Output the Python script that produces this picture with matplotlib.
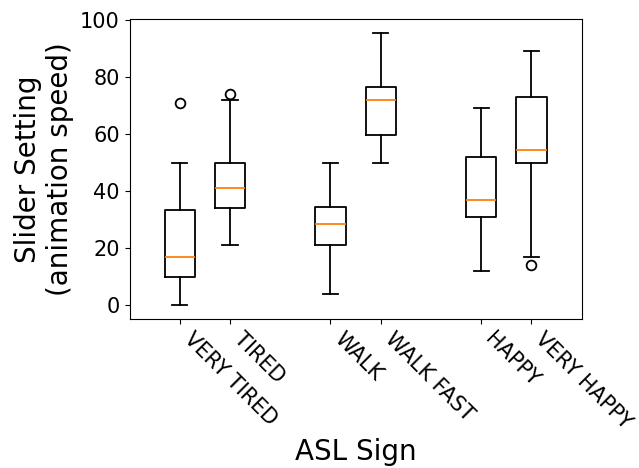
import matplotlib
matplotlib.use("Agg")
import matplotlib.pyplot as plt

# ASL signs and box statistics
signs = ["VERY TIRED", "TIRED", "WALK", "WALK FAST", "HAPPY", "VERY HAPPY"]
positions = [1, 2, 4, 5, 7, 8]
whislo = [0, 21, 4, 50, 12, 17]
q1 = [10, 34, 21, 59.5, 31, 50]
med = [17, 41, 28.5, 72, 37, 54.5]
q3 = [33.5, 50, 34.5, 76.5, 52, 73]
whishi = [50, 72, 50, 95.5, 69, 89]
fliers = [[71], [74], [], [], [], [14]]

stats = []
for i in range(len(signs)):
    stats.append({"label": signs[i], "whislo": whislo[i], "q1": q1[i], "med": med[i],
                  "q3": q3[i], "whishi": whishi[i], "fliers": fliers[i]})

fig = plt.figure(figsize=(6.39, 4.68), dpi=100)
ax = fig.add_axes([0.2027, 0.3184, 0.7076, 0.641])

lw = 1.3
ax.bxp(stats, positions=positions, widths=0.6,
       boxprops=dict(linewidth=lw), whiskerprops=dict(linewidth=lw),
       capprops=dict(linewidth=lw), medianprops=dict(linewidth=lw, color="C1"),
       flierprops=dict(markersize=7, markeredgewidth=lw))

ax.set_xlim(0, 9)
ax.set_yticks([0, 20, 40, 60, 80, 100])
ax.tick_params(labelsize=15)
plt.setp(ax.get_xticklabels(), rotation=-45, ha="left", rotation_mode="default")
ax.set_xlabel("ASL Sign", fontsize=20)
ax.set_ylabel("Slider Setting\n(animation speed)", fontsize=20)

fig.savefig("out.png", dpi=100)
